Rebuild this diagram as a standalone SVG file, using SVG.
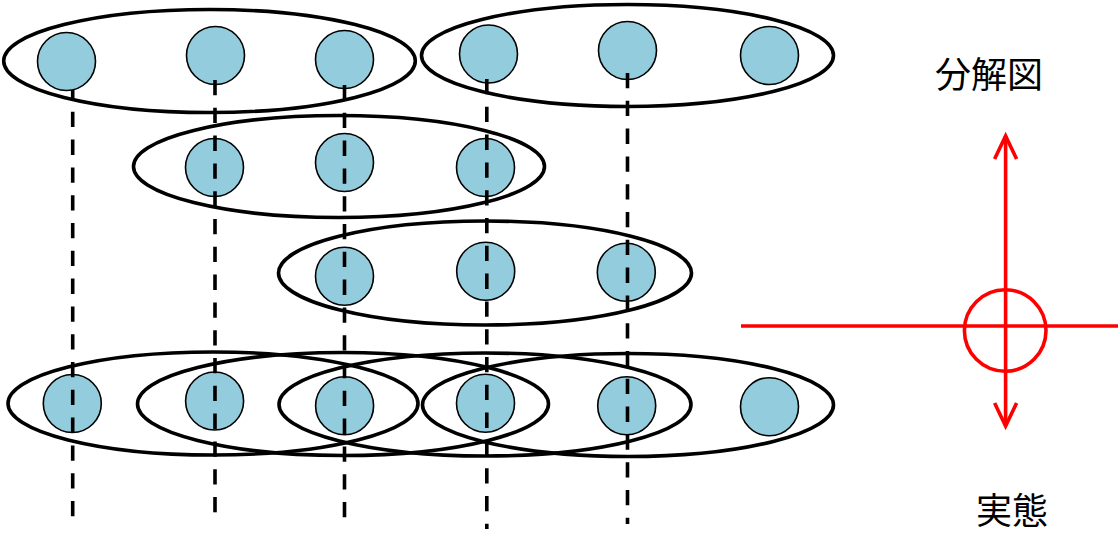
<svg xmlns="http://www.w3.org/2000/svg" width="1119" height="553" viewBox="0 0 1119 553">
  <style>
    .grp { fill: none; stroke: #000; stroke-width: 3.6; }
    .node { fill: #93CDDD; stroke: #000; stroke-width: 1.6; }
    .dash { stroke: #000; stroke-width: 3.6; stroke-dasharray: 15.3 12.5; fill: none; }
    .red { stroke: #FF0000; stroke-width: 3.6; fill: none; }
    .label { font-family: "Noto Sans CJK JP", "Noto Sans CJK SC", sans-serif; font-size: 36px; fill: #000; text-anchor: middle; }
  </style>
  <defs>
    <marker id="openArrow" markerUnits="userSpaceOnUse" markerWidth="30" markerHeight="30" refX="24" refY="12" orient="auto-start-reverse" overflow="visible">
      <path d="M1,1 L24,12 L1,23" fill="none" stroke="#FF0000" stroke-width="3.6" stroke-linejoin="miter"/>
    </marker>
  </defs>
  <rect width="1119" height="553" fill="#FFFFFF"/>

  <!-- group ellipses -->
  <g id="groups">
    <ellipse id="g-top-1" class="grp" cx="209.5" cy="61" rx="205.8" ry="51.5"/>
    <ellipse id="g-top-2" class="grp" cx="627.5" cy="55.5" rx="206" ry="51"/>
    <ellipse id="g-row2" class="grp" cx="339" cy="166.5" rx="205.5" ry="51"/>
    <ellipse id="g-row3" class="grp" cx="485" cy="273" rx="206.5" ry="52"/>
    <ellipse id="g-bot-1" class="grp" cx="213" cy="403.5" rx="205" ry="51.5"/>
    <ellipse id="g-bot-2" class="grp" cx="343" cy="404" rx="205.5" ry="51.5"/>
    <ellipse id="g-bot-3" class="grp" cx="485" cy="404.5" rx="206" ry="51.5"/>
    <ellipse id="g-bot-4" class="grp" cx="628" cy="405" rx="205.5" ry="51.5"/>
  </g>

  <!-- nodes -->
  <g id="n-top-1"><circle class="node" cx="66.5" cy="61.5" r="29"/></g>
  <g id="n-top-2"><circle class="node" cx="215.5" cy="55.5" r="29"/></g>
  <g id="n-top-3"><circle class="node" cx="344.5" cy="59.5" r="29"/></g>
  <g id="n-top-4"><circle class="node" cx="488.5" cy="54" r="29"/></g>
  <g id="n-top-5"><circle class="node" cx="627.5" cy="50.5" r="29"/></g>
  <g id="n-top-6"><circle class="node" cx="769.5" cy="55.5" r="29"/></g>

  <g id="n-row2-1"><circle class="node" cx="214.5" cy="167.5" r="29"/></g>
  <g id="n-row2-2"><circle class="node" cx="344.5" cy="162.5" r="29"/></g>
  <g id="n-row2-3"><circle class="node" cx="485.5" cy="167.5" r="29"/></g>

  <g id="n-row3-1"><circle class="node" cx="344.5" cy="276.3" r="29"/></g>
  <g id="n-row3-2"><circle class="node" cx="485.7" cy="271.3" r="29"/></g>
  <g id="n-row3-3"><circle class="node" cx="626.3" cy="272.2" r="29"/></g>

  <g id="n-bot-1"><circle class="node" cx="72.3" cy="403.5" r="29"/></g>
  <g id="n-bot-2"><circle class="node" cx="214.6" cy="401" r="29"/></g>
  <g id="n-bot-3"><circle class="node" cx="344.6" cy="405.7" r="29"/></g>
  <g id="n-bot-4"><circle class="node" cx="485.5" cy="403.3" r="29"/></g>
  <g id="n-bot-5"><circle class="node" cx="626.7" cy="405.7" r="29"/></g>
  <g id="n-bot-6"><circle class="node" cx="769.5" cy="406.7" r="29"/></g>

  <!-- connectors -->
  <g id="connectors">
    <line class="dash" x1="72.7" y1="90" x2="72.7" y2="517" stroke-dashoffset="6"/>
    <line class="dash" x1="215" y1="80" x2="215" y2="516"/>
    <line class="dash" x1="344.5" y1="85" x2="344.5" y2="521"/>
    <line class="dash" x1="486.8" y1="79" x2="486.8" y2="529"/>
    <line class="dash" x1="627.5" y1="73" x2="627.5" y2="524"/>
  </g>

  <!-- red axis symbol -->
  <g id="axis">
    <line class="red" x1="741" y1="326" x2="1118" y2="326"/>
    <circle class="red" cx="1005.2" cy="330.5" r="40.8"/>
    <line class="red" x1="1005.6" y1="426" x2="1005.6" y2="136" marker-start="url(#openArrow)" marker-end="url(#openArrow)"/>
  </g>

  <g id="label-top"><text class="label" x="989" y="88">分解図</text></g>
  <g id="label-bottom"><text class="label" x="1012" y="524">実態</text></g>
</svg>
